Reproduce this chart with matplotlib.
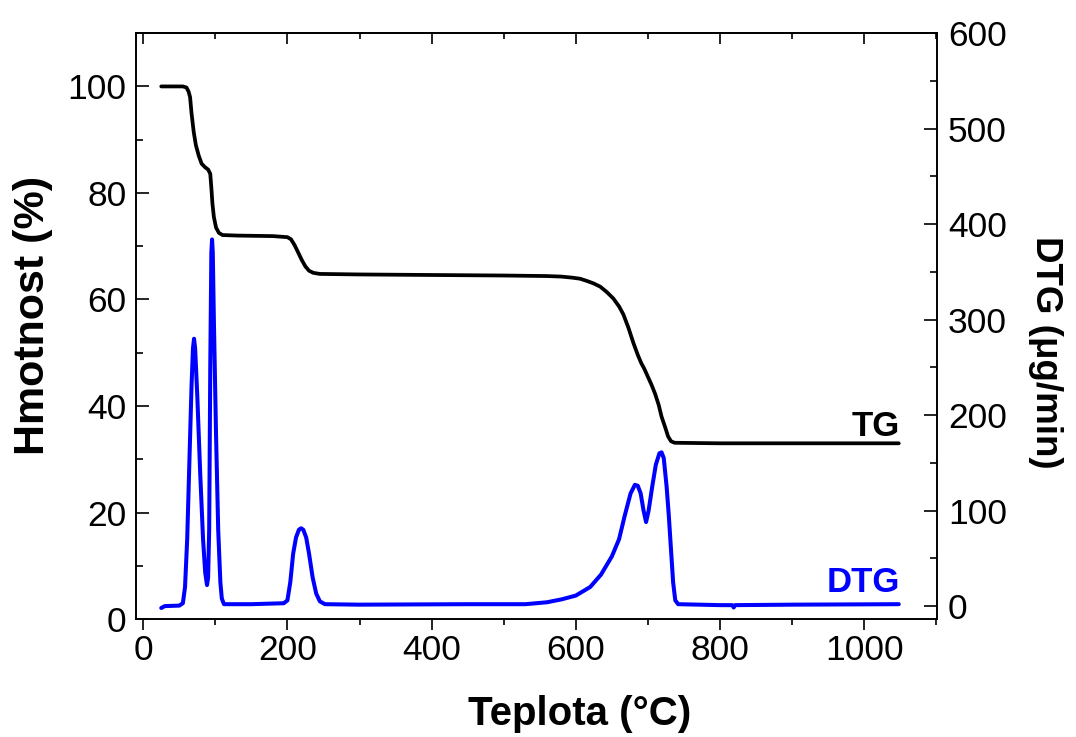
import matplotlib.pyplot as plt
from matplotlib.ticker import MultipleLocator

plt.rcParams['font.family'] = ['Liberation Sans', 'DejaVu Sans']

# TG krivka: teplota (°C) a hmotnost (%)
tg_t = [25, 40, 55, 60, 63, 65, 67, 70, 73, 77, 81, 86, 90, 93, 94.5, 96, 98,
        101, 105, 110, 130, 180, 200, 205, 210, 215, 220, 225, 230, 236, 245,
        300, 400, 500, 560, 580, 595, 606, 615, 625, 634, 643, 652, 660, 666,
        673, 680, 686, 691, 695, 699, 705, 710, 715, 719, 724, 728, 732, 737,
        800, 900, 1048]
tg_m = [100, 100, 100, 99.8, 99, 98, 95, 91.5, 89, 87, 85.5, 84.8, 84.4, 83.6,
        81, 78, 75.5, 73.5, 72.5, 72.1, 72, 71.9, 71.7, 71.3, 70.2, 68.8, 67.4,
        66.2, 65.4, 65, 64.8, 64.7, 64.6, 64.5, 64.4, 64.3, 64.1, 63.9, 63.5,
        63, 62.4, 61.4, 60.2, 58.7, 57.2, 54.7, 51.8, 49.6, 48, 47, 45.8, 44,
        42.3, 40.2, 38, 36, 34.3, 33.4, 33.1, 33, 33, 33]

# DTG krivka: teplota (°C) a rychlost (ug/min)
dtg_t = [25, 30, 50, 55, 58, 61, 64, 67, 69, 70.5, 72, 75, 79, 83, 86, 88.5,
         90, 91.5, 93, 94.5, 95.5, 96.5, 98, 101, 104, 107, 109, 112, 150, 195,
         200, 204, 208, 212, 216, 219, 222, 226, 230, 235, 240, 245, 252, 300,
         450, 530, 560, 580, 600, 620, 635, 650, 660, 668, 676, 682, 686, 690,
         694, 697.5, 701, 706, 711, 716, 719, 722, 726, 729, 732, 735, 738, 742,
         800, 817, 819, 821, 900, 1048]
dtg_v = [-2, 0, 0.5, 3, 20, 70, 150, 230, 270, 280, 270, 220, 140, 70, 35, 22,
         30, 80, 250, 370, 384, 370, 300, 180, 80, 25, 8, 2, 2, 3,
         6, 25, 55, 72, 80, 81.5, 80, 72, 55, 30, 13, 5, 2, 1.5,
         2, 2, 4, 7, 11, 20, 33, 52, 70, 95, 118, 127, 126, 118,
         100, 88, 100, 125, 148, 160, 161, 155, 125, 95, 60, 25, 6, 2,
         1, 1, -1.5, 1, 1.5, 2]

W, H = 1076, 737
fig, ax = plt.subplots(figsize=(W / 100, H / 100), dpi=100)
fig.subplots_adjust(left=0.1264, right=0.8708, bottom=0.160, top=0.955)
ax2 = ax.twinx()

ax.plot(tg_t, tg_m, color='black', lw=2.7, solid_capstyle='round', solid_joinstyle='round')
ax2.plot(dtg_t, dtg_v, color='#0000ff', lw=2.9, solid_capstyle='round', solid_joinstyle='round')

ax.set_xlim(-10, 1101)
ax.set_ylim(0, 110)
ax2.set_ylim(-13.6, 600)

ax.xaxis.set_major_locator(MultipleLocator(200))
ax.xaxis.set_minor_locator(MultipleLocator(100))
ax.yaxis.set_major_locator(MultipleLocator(20))
ax.yaxis.set_minor_locator(MultipleLocator(10))
ax2.yaxis.set_major_locator(MultipleLocator(100))
ax2.yaxis.set_minor_locator(MultipleLocator(50))

fs = 25.5
ax.tick_params(axis='x', which='both', direction='out', labelsize=fs, width=1.2, pad=3)
ax.tick_params(axis='x', which='major', length=8)
ax.tick_params(axis='x', which='minor', length=4)
ax.tick_params(axis='y', which='both', direction='in', labelsize=fs, width=1.2, pad=7)
ax.tick_params(axis='y', which='major', length=9.5)
ax.tick_params(axis='y', which='minor', length=5)
ax2.tick_params(axis='y', which='both', direction='in', labelsize=fs, width=1.2, pad=8)
ax2.tick_params(axis='y', which='major', length=9.5)
ax2.tick_params(axis='y', which='minor', length=5)

top = ax.secondary_xaxis('top')
top.xaxis.set_major_locator(MultipleLocator(200))
top.xaxis.set_minor_locator(MultipleLocator(100))
top.tick_params(which='both', direction='in', labeltop=False, width=1.2)
top.tick_params(which='major', length=8)
top.tick_params(which='minor', length=4.5)

for a in (ax, ax2):
    for s in a.spines.values():
        s.set_linewidth(1.2)
top.spines['top'].set_linewidth(1.2)

# popisky os
fig.text(580 / W, 1 - 714 / H, 'Teplota (°C)', fontsize=29, fontweight='bold',
         ha='center', va='center')
fig.text(33 / W, 1 - 315 / H, 'Hmotnost (%)', fontsize=31, fontweight='bold',
         ha='center', va='center', rotation=90)
fig.text(1046 / W, 1 - 352 / H, 'DTG (μg/min)', fontsize=26.5, fontweight='bold',
         ha='center', va='center', rotation=270)

ax.text(1050, 34.4, 'TG', color='black', fontsize=25, fontweight='bold', ha='right', va='baseline')
ax2.text(1050, 14.6, 'DTG', color='#0000ff', fontsize=25, fontweight='bold', ha='right', va='baseline')

fig.savefig('out.png', dpi=100)
